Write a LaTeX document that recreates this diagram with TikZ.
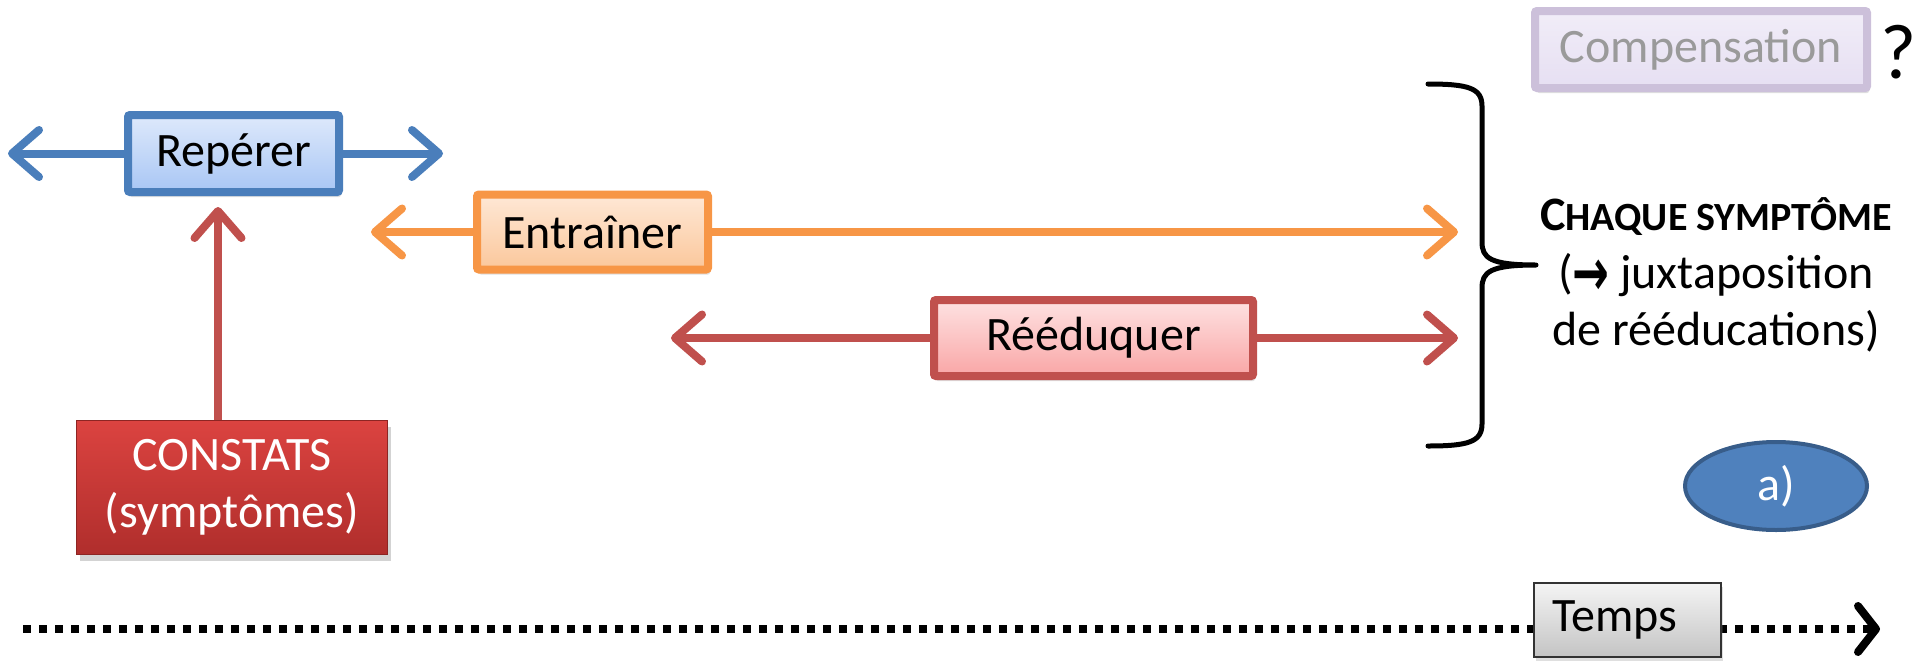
\documentclass[tikz,border=0pt]{standalone}
\usepackage{fontspec}
\setmainfont{Carlito}
\newfontfamily\symfont{DejaVu Sans}
\usetikzlibrary{arrows.meta,shapes.geometric,shadows}
\definecolor{bluebd}{HTML}{4A7EBB}
\definecolor{bluetop}{HTML}{DEE9FB}
\definecolor{bluebot}{HTML}{A8C6F5}
\definecolor{orangebd}{HTML}{F79646}
\definecolor{orangetop}{HTML}{FEE8D6}
\definecolor{orangebot}{HTML}{FBC79B}
\definecolor{redbd}{HTML}{C0504D}
\definecolor{redtop}{HTML}{FEE2E2}
\definecolor{redbot}{HTML}{F9A6A6}
\definecolor{constop}{HTML}{DB4340}
\definecolor{consbot}{HTML}{B02E2C}
\definecolor{compbd}{HTML}{CCC0DA}
\definecolor{comptop}{HTML}{F1EDF8}
\definecolor{compbot}{HTML}{E6DFF2}
\definecolor{comptext}{HTML}{9A9A9A}
\definecolor{ellfill}{HTML}{4F81BD}
\definecolor{ellbd}{HTML}{385D8A}
\definecolor{tempstop}{HTML}{F4F4F4}
\definecolor{tempsbot}{HTML}{C4C4C4}
\newcommand\bigtxt{\fontsize{48}{57}\selectfont}
\tikzset{
  boxbase/.style={rectangle, inner sep=0pt, line width=8pt, rounded corners=2pt,
    font=\bigtxt, drop shadow={shadow xshift=2pt, shadow yshift=-5pt, opacity=0.25}},
  bluebox/.style={boxbase, draw=bluebd, top color=bluetop, bottom color=bluebot},
  orangebox/.style={boxbase, draw=orangebd, top color=orangetop, bottom color=orangebot},
  redbox/.style={boxbase, draw=redbd, top color=redtop, bottom color=redbot},
  compbox/.style={boxbase, draw=compbd, top color=comptop, bottom color=compbot, text=comptext},
  consbox/.style={rectangle, inner sep=0pt, draw=consbot!80!black, line width=1pt, top color=constop, bottom color=consbot,
    text=white, align=center, font=\bigtxt, drop shadow={shadow xshift=3pt, shadow yshift=-6pt, opacity=0.35}},
  tempsbox/.style={rectangle, inner xsep=18pt, inner ysep=0pt, text width=151pt, align=left, minimum height=74pt,
    draw=black!80, line width=2pt, top color=tempstop, bottom color=tempsbot, font=\bigtxt,
    drop shadow={shadow xshift=2pt, shadow yshift=-4pt, opacity=0.25}},
  conn/.style={line width=8pt, -{Straight Barb[length=27pt,width=47pt,round]}},
  bconn/.style={conn, draw=bluebd},
  oconn/.style={conn, draw=orangebd},
  rconn/.style={conn, draw=redbd},
  timeline/.style={line width=8pt, dash pattern=on 8pt off 8pt, draw=black,
    -{Straight Barb[length=18pt,width=46pt,round]}},
  bracestyle/.style={line width=5pt, draw=black, line cap=round, line join=round},
  chqtxt/.style={anchor=base, font=\bigtxt}
}
\begin{document}
\begin{tikzpicture}[x=1pt,y=-1pt]
\useasboundingbox (0,0) rectangle (1920,662);

% timeline
\coordinate (tstart) at (23,629);
\coordinate (tend) at (1880,629);
\draw[timeline] (tstart) -- (tend);
\node[tempsbox] (temps) at (1627.5,620) {Temps};

% boxes
\node[bluebox, minimum width=211pt, minimum height=77pt] (rep) at (233.5,153.5) {Repérer};
\node[orangebox, minimum width=231pt, minimum height=75pt] (ent) at (592.5,232) {Entraîner};
\node[redbox, minimum width=319pt, minimum height=76pt] (ree) at (1093.5,338) {Rééduquer};
\node[consbox, minimum width=311pt, minimum height=134pt] (cons) at (232,487.5) {CONSTATS\\(symptômes)};
\node[compbox, minimum width=332pt, minimum height=77pt] (comp) at (1701,49.5) {Compensation};
\node[font=\fontsize{78}{78}\selectfont, inner sep=0pt] (q) at (1899,52) {?};
\node[ellipse, fill=ellfill, draw=ellbd, line width=4pt, minimum width=182pt, minimum height=88pt,
  inner sep=0pt, text=white, font=\bigtxt] (ella) at (1776,486) {a)};

% connector end points
\coordinate (repL) at (8,153.5);
\coordinate (repR) at (443,153.5);
\coordinate (entL) at (371,232);
\coordinate (entR) at (1458,232);
\coordinate (reeL) at (671,338);
\coordinate (reeR) at (1458,338);
\coordinate (vtip) at (218,207);

\draw[bconn] (rep.west) -- (repL);
\draw[bconn] (rep.east) -- (repR);
\draw[oconn] (ent.west) -- (entL);
\draw[oconn] (ent.east) -- (entR);
\draw[rconn] (ree.west) -- (reeL);
\draw[rconn] (ree.east) -- (reeR);
\draw[rconn] (cons.north -| vtip) -- (vtip);

% brace
\draw[bracestyle] (1428,84) .. controls (1468,84) and (1482,88) .. (1482,106)
  -- (1482,242) .. controls (1482,258) and (1490,265) .. (1536,265)
  .. controls (1490,265) and (1482,272) .. (1482,288)
  -- (1482,424) .. controls (1482,442) and (1468,446) .. (1428,446);

% right text
\node[chqtxt] (chq1) at (1716,230) {\bfseries{\fontsize{48}{57}\selectfont C}{\fontsize{40}{57}\selectfont HAQUE SYMPTÔME}};
\node[chqtxt] (chq2) at (1716,288) {(\raisebox{-7pt}{\scalebox{1.0}[1.5]{\symfont\bfseries\fontsize{44}{57}\selectfont →}} juxtaposition};
\node[chqtxt] (chq3) at (1716,345) {de rééducations)};
\end{tikzpicture}
\end{document}
